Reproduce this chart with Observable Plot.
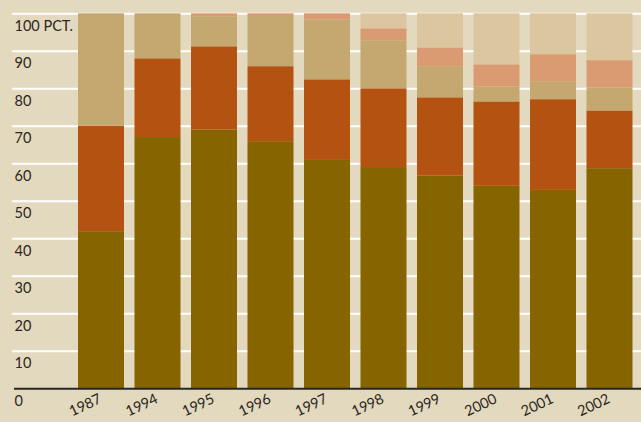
<!DOCTYPE html>
<html>
<head>
<meta charset="utf-8">
<script src="https://cdn.jsdelivr.net/npm/d3@7"></script>
<script src="https://cdn.jsdelivr.net/npm/@observablehq/plot@0.6"></script>
<style>
  html, body { margin: 0; padding: 0; background: #e3d9be; }
  #chart { width: 641px; height: 422px; }
</style>
</head>
<body>
<div id="chart"></div>
<script>
const years = ["1987","1994","1995","1996","1997","1998","1999","2000","2001","2002"];
const seriesNames = ["A","B","C","D","E"];
const seriesA = [41.9, 67.0, 69.0, 65.9, 60.9, 59.0, 56.7, 54.0, 52.9, 58.7];
const seriesB = [28.1, 21.0, 22.2, 20.0, 21.5, 21.0, 20.9, 22.5, 24.2, 15.4];
const seriesC = [30.0, 12.0, 8.0, 13.4, 16.0, 12.8, 8.3, 4.0, 4.8, 6.1];
const seriesD = [0, 0, 0.8, 0.7, 1.6, 3.2, 5.0, 5.9, 7.2, 7.3];
const seriesE = [0, 0, 0, 0, 0, 4.0, 9.1, 13.6, 10.9, 12.5];
const yTicks = [0,10,20,30,40,50,60,70,80,90,100];
const colors = ["#866400","#b45311","#c4a870","#da9a72","#dcc69f"];

const allSeries = [seriesA, seriesB, seriesC, seriesD, seriesE];
const data = [];
allSeries.forEach((vals, si) => {
  vals.forEach((v, i) => data.push({year: years[i], series: seriesNames[si], value: v}));
});

const step = 56.5, pad = 0.186;
const chart = Plot.plot({
  width: 641,
  height: 422,
  marginTop: 13.3,
  marginBottom: 33.7,
  marginLeft: 12,
  marginRight: 0,
  style: {background: "#e3d9be", fontFamily: "Lato, 'Open Sans', sans-serif", color: "#2b2622"},
  x: {domain: years, range: [78 - pad*step, 78 - pad*step + step*(years.length + pad)], paddingInner: pad, paddingOuter: pad, round: false, axis: null},
  y: {domain: [0, 100], axis: null},
  color: {domain: seriesNames, range: colors},
  marks: [
    Plot.ruleY(yTicks.filter(d => d > 0), {stroke: "#ffffff", strokeWidth: 2}),
    Plot.barY(data, {x: "year", y: "value", fill: "series"}),
    Plot.ruleY([0], {stroke: "#2b2622", strokeWidth: 2, insetLeft: 2}),
    Plot.text(yTicks, {y: d => d, text: d => d === 100 ? "100 PCT." : String(d), frameAnchor: "left", textAnchor: "start", dx: 2, dy: 12.5, fontSize: 14.5, fill: "#2b2622"}),
    Plot.text(years, {x: d => d, text: d => d, frameAnchor: "bottom", textAnchor: "end", rotate: -25, dx: 1, dy: 13.5, fontSize: 14.5, fill: "#2b2622"})
  ]
});
document.getElementById("chart").appendChild(chart);
</script>
</body>
</html>
